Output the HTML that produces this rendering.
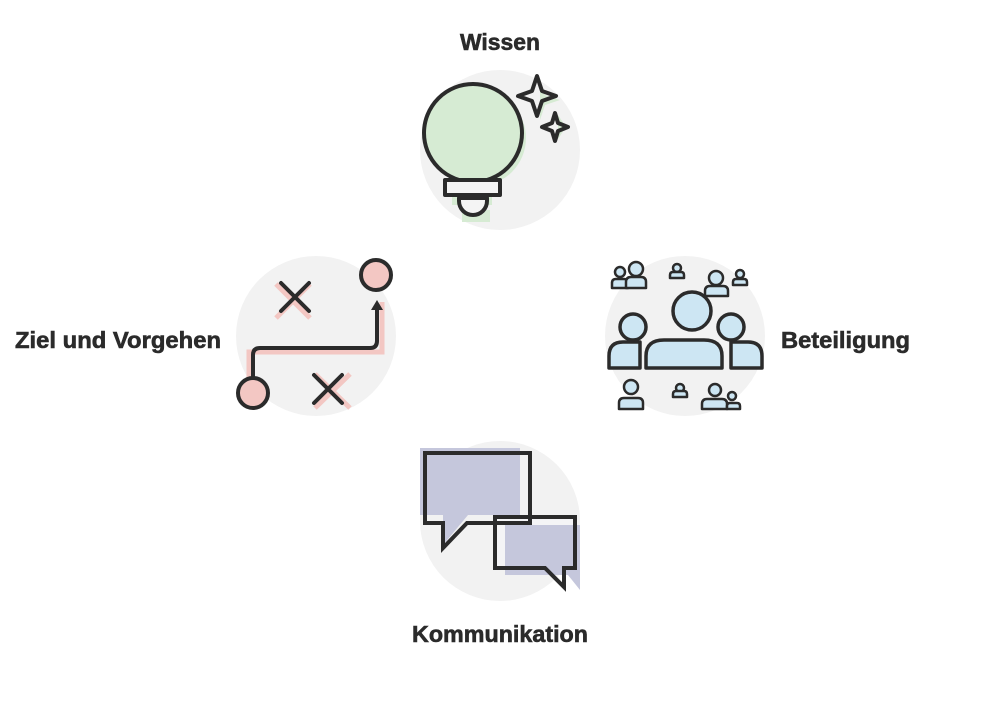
<!DOCTYPE html>
<html><head><style>html,body{margin:0;background:#fff}</style></head><body>
<svg width="1000" height="705" viewBox="0 0 1000 705" xmlns="http://www.w3.org/2000/svg">
<g fill="#f2f2f2">
<circle cx="500" cy="150" r="80"/>
<circle cx="685" cy="336" r="80"/>
<circle cx="316" cy="336" r="80"/>
<circle cx="500" cy="521" r="80"/>
</g>
<g font-family="Liberation Sans, sans-serif" font-weight="bold" font-size="23" fill="#2b2b2b" stroke="#2b2b2b" stroke-width="0.6">
<text x="460" y="50" textLength="80" lengthAdjust="spacingAndGlyphs">Wissen</text>
<text x="15" y="348" textLength="206" lengthAdjust="spacingAndGlyphs">Ziel und Vorgehen</text>
<text x="781" y="348" textLength="129" lengthAdjust="spacingAndGlyphs">Beteiligung</text>
<text x="412" y="642" textLength="176" lengthAdjust="spacingAndGlyphs">Kommunikation</text>
</g>
<!-- Wissen -->
<circle cx="478" cy="138" r="48" fill="#d6ebd3"/>
<path d="M540 80 L545 95 L560 100 L545 105 L540 120 Z M558 115 L566 127 L558 139 Z" fill="#d6ebd3"/>
<path d="M452 195 h40 v10 h-40 z M462 210 h28 v12 h-28z" fill="#d6ebd3"/>
<g fill="none" stroke="#2b2b2b" stroke-width="4" stroke-linejoin="round">
<circle cx="473" cy="133" r="49" fill="#d6ebd3"/>
<rect x="445" y="180" width="55" height="15" fill="#f4f4f4"/>
<path d="M459 198 v3 a14 14 0 0 0 28 0 v-3 z" fill="#f4f4f4"/>
<path d="M537 76 L542 91 L556 96 L542 101 L537 116 L532 101 L518 96 L532 91 Z"/>
<path d="M555 113 L558 123 L568 127 L558 131 L555 141 L552 131 L542 127 L552 123 Z"/>
</g>
<!-- Ziel -->
<g stroke="#f3c7c3" stroke-width="5" fill="none">
<path d="M276 284 L310 318 M310 284 L276 318"/>
<path d="M315 374 L350 408 M350 374 L315 408"/>
<path d="M249 378 V352 H382 V302"/>
</g>
<g fill="none" stroke="#2b2b2b" stroke-width="4" stroke-linecap="round" stroke-linejoin="round">
<path d="M281 283 L309 311 M309 283 L281 311"/>
<path d="M314 375 L342 403 M342 375 L314 403"/>
<path d="M253 378 V355 Q253 348 260 348 H370 Q377 348 377 341 V307"/>
</g>
<path d="M371 310 L377 300 L383 310 Z" fill="#2b2b2b"/>
<circle cx="376" cy="275" r="15" fill="#f3c7c3" stroke="#2b2b2b" stroke-width="4"/>
<circle cx="253" cy="393" r="15" fill="#f3c7c3" stroke="#2b2b2b" stroke-width="4"/>
<!-- Beteiligung -->
<g fill="#cde6f3" stroke="#2b2b2b" stroke-width="3.5" stroke-linejoin="round">
<path d="M609 368 V356 Q609 342 623 342 H640 V368 Z"/>
<circle cx="633" cy="327" r="13"/>
<path d="M762 368 V356 Q762 342 748 342 H731 V368 Z"/>
<circle cx="731" cy="327" r="13"/>
<path d="M646 368 V356 Q646 340 664 340 H704 Q722 340 722 356 V368 Z"/>
<circle cx="692" cy="311" r="19"/>
</g>
<g fill="#cde6f3" stroke="#2b2b2b" stroke-width="2.5" stroke-linejoin="round">
<circle cx="620" cy="272" r="5"/><path d="M612 288 v-5 q0-4 4-4 h8 q4 0 4 4 v5z"/>
<circle cx="636" cy="269" r="7"/><path d="M626 288 v-6 q0-5 5-5 h10 q5 0 5 5 v6z"/>
<circle cx="677" cy="268" r="4"/><path d="M670 278 v-3 q0-3 3-3 h8 q3 0 3 3 v3z"/>
<circle cx="716" cy="278" r="7"/><path d="M705 296 v-5 q0-5 5-5 h13 q5 0 5 5 v5z"/>
<circle cx="740" cy="274" r="4"/><path d="M733 285 v-3 q0-3 3-3 h8 q3 0 3 3 v3z"/>
<circle cx="631" cy="387" r="7"/><path d="M619 409 v-6 q0-5 5-5 h14 q5 0 5 5 v6z"/>
<circle cx="680" cy="388" r="4"/><path d="M673 397 v-3 q0-3 3-3 h8 q3 0 3 3 v3z"/>
<circle cx="715" cy="390" r="6"/><path d="M702 409 v-5 q0-5 5-5 h15 q5 0 5 5 v5z"/>
<circle cx="732" cy="396" r="4"/><path d="M727 409 v-3 q0-3 3-3 h7 q3 0 3 3 v3z"/>
</g>
<!-- Kommunikation -->
<path d="M420 448 H520 V515 H468 L443 545 V515 H420 Z" fill="#c5c7dc"/>
<rect x="497" y="519" width="76" height="47" fill="#f4f4f6"/>
<path d="M505 525 H580 V590 L568 575 H505 Z" fill="#c5c7dc"/>
<g fill="none" stroke="#2b2b2b" stroke-width="4" stroke-linejoin="miter">
<path d="M425 453 H530 V523 H467 L443 548 V523 H425 Z"/>
<path d="M495 517 H575 V568 H564 V587 L545 568 H495 Z"/>
</g>
</svg>
</body></html>
